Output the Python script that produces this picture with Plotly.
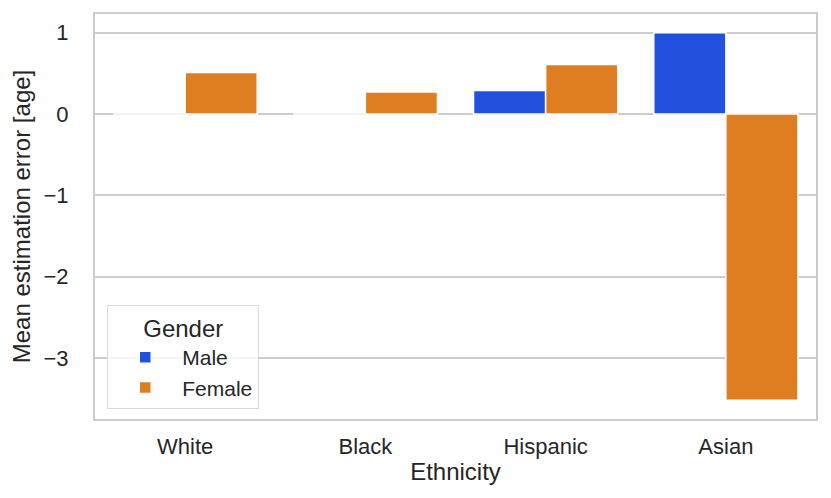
import plotly.graph_objects as go

ethnicity = ["White", "Black", "Hispanic", "Asian"]
male_err = [0.0, 0.0, 0.29, 1.0]
female_err = [0.51, 0.27, 0.61, -3.52]
y_ticks = [1, 0, -1, -2, -3]

BLUE = "#2251DF"
ORANGE = "#DF7E20"
GRID = "#CCCCCC"
TXT = "#262626"
FONT = "Liberation Sans, Arial, sans-serif"

fig = go.Figure()
fig.add_trace(go.Bar(x=ethnicity, y=male_err, name="Male",
                     marker=dict(color=BLUE, line=dict(color="white", width=1.5))))
fig.add_trace(go.Bar(x=ethnicity, y=female_err, name="Female",
                     marker=dict(color=ORANGE, line=dict(color="white", width=1.5))))

fig.update_layout(
    width=831, height=498,
    margin=dict(l=95, r=15, t=14, b=79),
    paper_bgcolor="white", plot_bgcolor="white",
    barmode="group", bargap=0.2, bargroupgap=0,
    font=dict(family=FONT, color=TXT, size=22),
    legend=dict(
        title=dict(text="Gender", side="top center", font=dict(size=24, color=TXT)),
        x=0.017, y=0.025, xanchor="left", yanchor="bottom",
        bgcolor="rgba(255,255,255,0.8)", bordercolor="#D9D9D9", borderwidth=1,
        font=dict(size=21, color=TXT), itemwidth=64, tracegroupgap=0,
        entrywidth=90, entrywidthmode="pixels",
    ),
)
fig.update_xaxes(
    type="category", range=[-0.5, 3.5], showgrid=False,
    showline=True, mirror=True, linecolor=GRID, linewidth=2,
    ticks="", ticklabelstandoff=7, tickfont=dict(size=22),
    title=dict(text="Ethnicity", font=dict(size=24), standoff=5),
)
fig.update_yaxes(
    range=[-3.75, 1.23], tickvals=y_ticks, showgrid=True, gridcolor=GRID, gridwidth=1.5,
    zeroline=False, showline=True, mirror=True, linecolor=GRID, linewidth=2,
    ticks="", ticklabelstandoff=20, tickfont=dict(size=22),
    title=dict(text="Mean estimation error [age]", font=dict(size=24), standoff=6),
)

fig.write_html(
    "out.html",
    config={"displayModeBar": False},
    post_script="document.body.style.margin='0';document.body.style.overflow='hidden';",
)
